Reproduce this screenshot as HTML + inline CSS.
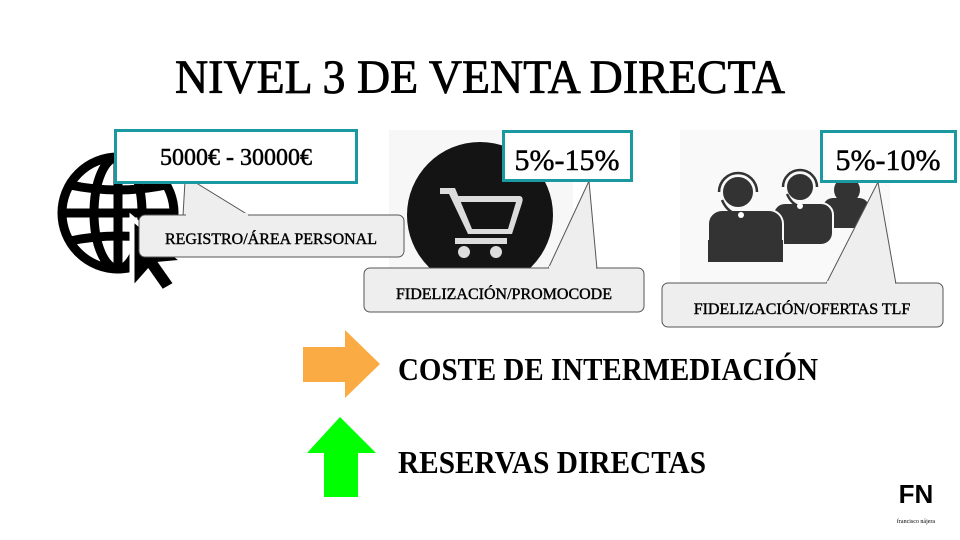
<!DOCTYPE html>
<html><head><meta charset="utf-8"><style>
html,body{margin:0;padding:0;background:#fff}
svg{display:block}
text{font-family:"Liberation Serif",serif}
</style></head><body>
<svg width="960" height="540" viewBox="0 0 960 540" xmlns="http://www.w3.org/2000/svg">
<rect width="960" height="540" fill="#fff"/>
<text x="175" y="93" font-size="48" textLength="610" lengthAdjust="spacingAndGlyphs" fill="#000" stroke="#000" stroke-width="0.8">NIVEL 3 DE VENTA DIRECTA</text>

<!-- globe -->
<g fill="none" stroke="#000" stroke-width="9">
<circle cx="118" cy="213" r="56"/>
<ellipse cx="118" cy="213" rx="24" ry="56"/>
<line x1="118" y1="157" x2="118" y2="269"/>
<line x1="62" y1="213" x2="174" y2="213"/>
<path d="M70 185 Q118 195 166 185"/>
<path d="M70 241 Q118 231 166 241"/>
</g>
<polygon points="132,218 132,290 148,272 162,292 176,284 162,264 184,262" fill="#000" stroke="#fff" stroke-width="5"/>

<!-- cart panel -->
<rect x="389" y="130" width="184" height="140" fill="#f7f7f7"/>
<clipPath id="c1"><rect x="389" y="130" width="184" height="140"/></clipPath>
<circle cx="480" cy="215" r="73" fill="#141414" clip-path="url(#c1)"/>
<g fill="#dcdcdc">
<path d="M440 188 L455 188 L472 229 L508 229 L516 202 L460 202 L457 196 L520 196 Q524 197 522 203 L512 234 L468 234 L449 194 L440 194 Z"/>
<circle cx="464" cy="252" r="6"/><circle cx="496" cy="252" r="6"/>
<rect x="455" y="238" width="52" height="6"/>
</g>

<!-- call center panel -->
<rect x="680" y="130" width="210" height="155" fill="#f9f9f9"/>
<g fill="#333">
<circle cx="847" cy="190" r="13"/><rect x="823" y="198" width="46" height="30" rx="10"/>
<circle cx="800" cy="187" r="14" stroke="#f9f9f9" stroke-width="2"/><rect x="773" y="203" width="60" height="42" rx="12" stroke="#f9f9f9" stroke-width="2"/>
<circle cx="738" cy="192" r="16" stroke="#f9f9f9" stroke-width="2"/><rect x="708" y="210" width="75" height="52" rx="14" stroke="#f9f9f9" stroke-width="2"/>
<rect x="708" y="240" width="75" height="22"/>
</g>
<g fill="none" stroke="#333" stroke-width="2.5">
<path d="M719 192 A19 19 0 0 1 757 192"/><path d="M783 187 A17 17 0 0 1 817 187"/>
<path d="M722 200 Q728 214 741 215"/><path d="M787 194 Q792 205 800 206"/>
</g>
<circle cx="741" cy="215" r="3" fill="#fff"/><circle cx="800" cy="206" r="3" fill="#fff"/>

<!-- box 1 -->
<polygon points="185,181 193,181 250,216 183,216" fill="#eee" stroke="#555" stroke-width="1"/>
<rect x="139" y="215" width="265" height="42" rx="6" fill="#eee" stroke="#555"/>
<rect x="186" y="213" width="62" height="4" fill="#eee"/>
<rect x="115.5" y="130.5" width="241" height="52" fill="#fff" stroke="#1a9aa0" stroke-width="3"/>
<text x="236" y="165" font-size="24" text-anchor="middle" stroke="#000" stroke-width="0.5">5000€ - 30000€</text>
<text x="271" y="244" font-size="16" text-anchor="middle" stroke="#000" stroke-width="0.4">REGISTRO/ÁREA PERSONAL</text>

<!-- box 2 -->
<polygon points="589,181 548,269 597,269" fill="#eee" stroke="#555"/>
<rect x="364" y="268" width="280" height="44" rx="6" fill="#eee" stroke="#555"/>
<rect x="549" y="266" width="47" height="4" fill="#eee"/>
<rect x="503.5" y="131.5" width="128" height="49" fill="#fff" stroke="#1a9aa0" stroke-width="3"/>
<text x="567" y="170" font-size="30" text-anchor="middle" stroke="#000" stroke-width="0.5">5%-15%</text>
<text x="504" y="299" font-size="16" text-anchor="middle" stroke="#000" stroke-width="0.4">FIDELIZACIÓN/PROMOCODE</text>

<!-- box 3 -->
<polygon points="878,182 826,284 896,284" fill="#eee" stroke="#555"/>
<rect x="662" y="283" width="281" height="44" rx="6" fill="#eee" stroke="#555"/>
<rect x="827" y="281" width="68" height="4" fill="#eee"/>
<rect x="821.5" y="131.5" width="134" height="50" fill="#fff" stroke="#1a9aa0" stroke-width="3"/>
<text x="888" y="170" font-size="30" text-anchor="middle" stroke="#000" stroke-width="0.5">5%-10%</text>
<text x="802" y="314" font-size="16" text-anchor="middle" stroke="#000" stroke-width="0.4">FIDELIZACIÓN/OFERTAS TLF</text>

<!-- arrows -->
<polygon points="303,347 345,347 345,330 380,364 345,398 345,382 303,382" fill="#fbab43"/>
<polygon points="340,417 376,453 358,453 358,497 324,497 324,453 307,453" fill="#00ff00"/>
<text x="398" y="380" font-size="32" font-weight="bold" textLength="420" lengthAdjust="spacingAndGlyphs">COSTE DE INTERMEDIACIÓN</text>
<text x="398" y="473" font-size="32" font-weight="bold" textLength="308" lengthAdjust="spacingAndGlyphs">RESERVAS DIRECTAS</text>

<!-- logo -->
<text x="916" y="503" font-size="26" font-weight="bold" text-anchor="middle" style="font-family:'Liberation Sans',sans-serif">FN</text>
<text x="916" y="523" font-size="6" text-anchor="middle">francisco nájera</text>
</svg>
</body></html>
